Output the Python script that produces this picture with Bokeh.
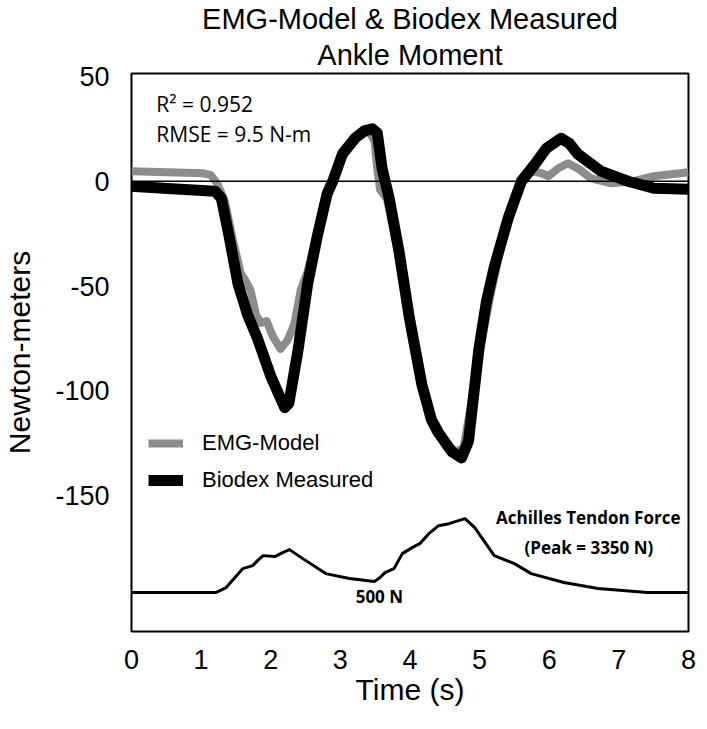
from bokeh.plotting import figure
from bokeh.models import Range1d, FixedTicker, Span, Label, Legend, LegendItem, Title
from bokeh.embed import file_html
from bokeh.resources import INLINE

# ---- data ----
time_emg = [0, 1.03, 1.14, 1.23, 1.34, 1.46, 1.57, 1.64, 1.71, 1.79, 1.86, 1.94, 2.03, 2.14,
            2.24, 2.34, 2.43, 2.53, 2.67, 2.81, 2.89, 3.03, 3.21, 3.41, 3.49, 3.53, 3.57, 3.67,
            3.81, 3.96, 4.10, 4.24, 4.36, 4.53, 4.67, 4.77, 4.91, 5.03, 5.17, 5.31, 5.46, 5.60,
            5.74, 5.89, 5.99, 6.13, 6.27, 6.43, 6.60, 6.89, 7.21, 7.50, 8.0]
moment_emg = [4.8, 3.8, 2.9, -1, -9.5, -28.6, -44, -47.6, -52, -64, -67.6, -66.7, -74, -80,
              -76, -68, -52, -43, -24, -7, -1, 12, 20, 24, 19, 6, -4, -8.6,
              -31, -60, -81, -107, -119, -126, -129, -127, -100, -76, -52, -31, -14, -1.4,
              4.8, 3.8, 2.4, 6.2, 8.6, 5.7, 1.4, -1, 0, 2.4, 4.3]

time_biodex = [0, 0.46, 1.2, 1.29, 1.4, 1.53, 1.67, 1.81, 2.0, 2.2, 2.26, 2.39, 2.53, 2.67,
               2.81, 2.89, 3.03, 3.21, 3.34, 3.46, 3.53, 3.6, 3.7, 3.84, 3.99, 4.17, 4.31,
               4.41, 4.6, 4.74, 4.84, 4.99, 5.1, 5.21, 5.41, 5.6, 5.79, 5.96, 6.17, 6.29,
               6.41, 6.74, 7.13, 7.5, 8.0]
moment_biodex = [-2.4, -3.3, -4.8, -8.1, -26, -49, -64, -75, -93, -108, -106, -81, -49, -26,
                 -6, 0, 13, 20.5, 24, 25, 23, 6, -8, -33, -65, -97, -114,
                 -120, -129, -132, -124, -80, -57, -41, -17.6, 0, 8, 15.7, 20.5, 18,
                 13, 4.8, 0, -3.3, -3.8]

time_force = [0, 1.21, 1.36, 1.6, 1.74, 1.81, 1.89, 2.06, 2.17, 2.27, 2.46, 2.79, 3.13, 3.49,
              3.57, 3.64, 3.77, 3.89, 4.03, 4.14, 4.27, 4.41, 4.56, 4.79, 4.93, 5.21, 5.5,
              5.74, 6.21, 6.7, 7.41, 8.0]
force_achilles = [0, 0, 226, 1086, 1222, 1449, 1675, 1630, 1811, 1947, 1539, 860, 634, 500,
                  680, 905, 1086, 1766, 2037, 2218, 2671, 3033, 3124, 3350, 2943, 1675, 1313,
                  860, 453, 181, 0, 0]

x_ticks = [0, 1, 2, 3, 4, 5, 6, 7, 8]
y_ticks = [50, 0, -50, -100, -150]

FONT = "Liberation Sans"

p = figure(width=707, height=729, output_backend="svg", toolbar_location=None,
           x_range=Range1d(0, 8), y_range=Range1d(-214.8, 51.4),
           min_border_left=128, min_border_right=19, min_border_top=72, min_border_bottom=98)
p.extra_y_ranges = {"force": Range1d(-1766, 23540)}

p.title = Title(text="EMG-Model & Biodex Measured", align="center",
                text_font=FONT, text_font_size="29px", text_font_style="normal",
                text_color="black", text_line_height=1.0, standoff=0, offset=-8)
p.add_layout(Title(text="Ankle Moment", align="center",
                   text_font=FONT, text_font_size="29px", text_font_style="normal",
                   text_color="black", text_line_height=1.0, standoff=5, offset=-8), "above")

p.grid.visible = False
p.outline_line_color = "black"
p.outline_line_width = 2
p.background_fill_color = "white"
p.border_fill_color = "white"

gray = p.line(time_emg, moment_emg, line_color="#8c8c8c", line_width=8, line_join="round")
black = p.line(time_biodex, moment_biodex, line_color="black", line_width=11, line_join="round")
p.line(time_force, force_achilles, y_range_name="force", line_color="black", line_width=3,
       line_join="round")

p.add_layout(Span(location=0, dimension="width", line_color="black", line_width=1.5))

for ax in (p.xaxis[0], p.yaxis[0]):
    ax.axis_line_color = None
    ax.major_tick_line_color = None
    ax.minor_tick_line_color = None
    ax.major_label_text_font = FONT
    ax.major_label_text_font_size = "27px"
    ax.major_label_text_color = "black"
    ax.axis_label_text_font = FONT
    ax.axis_label_text_font_size = "30px"
    ax.axis_label_text_font_style = "normal"
    ax.axis_label_text_color = "black"

p.xaxis.ticker = FixedTicker(ticks=x_ticks)
p.xaxis.major_label_text_align = "left"
p.xaxis.major_label_standoff = 12
p.xaxis.axis_label = "Time (s)"
p.xaxis.axis_label_standoff = 1

p.yaxis.ticker = FixedTicker(ticks=y_ticks)
p.yaxis.major_label_overrides = {v: str(v) for v in y_ticks}
p.yaxis.major_label_standoff = 16
p.yaxis.axis_label = "Newton-meters"
p.yaxis.axis_label_standoff = 16

legend = Legend(items=[LegendItem(label="EMG-Model", renderers=[gray]),
                       LegendItem(label="Biodex Measured", renderers=[black])],
                location=(17, 138), padding=0, margin=0, spacing=11,
                glyph_width=35, glyph_height=22, label_height=22, label_standoff=19,
                label_text_font=FONT, label_text_font_size="22px", label_text_color="black",
                background_fill_alpha=0, border_line_alpha=0)
p.add_layout(legend)

# annotations
ANN = "Open Sans"
p.add_layout(Label(x=0.357, y=30, text="R² = 0.952", text_font=ANN, text_font_size="21px",
                   text_color="black"))
p.add_layout(Label(x=0.357, y=15.7, text="RMSE = 9.5 N-m", text_font=ANN, text_font_size="21px",
                   text_color="black"))
p.add_layout(Label(x=6.56, y=-165.7, text="Achilles Tendon Force", text_align="center",
                   text_font=ANN, text_font_size="17px", text_font_style="bold", text_color="black"))
p.add_layout(Label(x=6.57, y=-180, text="(Peak = 3350 N)", text_align="center",
                   text_font=ANN, text_font_size="17px", text_font_style="bold", text_color="black"))
p.add_layout(Label(x=3.56, y=-203.8, text="500 N", text_align="center",
                   text_font=ANN, text_font_size="17px", text_font_style="bold", text_color="black"))

open("out.html", "w").write(file_html(p, INLINE))
